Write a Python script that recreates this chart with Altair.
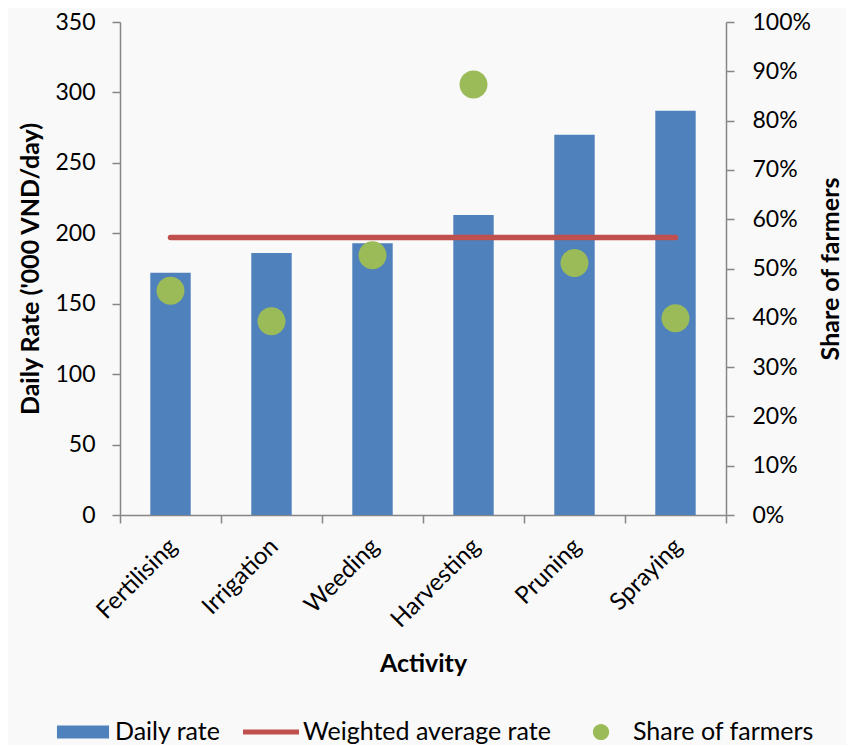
import altair as alt
import pandas as pd

# ---- data ----
activities = ["Fertilising", "Irrigation", "Weeding", "Harvesting", "Pruning", "Spraying"]
daily_rate = [172, 186, 193, 213, 270, 287]
share_of_farmers = [0.455, 0.393, 0.527, 0.873, 0.511, 0.399]
weighted_average = 197

series_names = ["Daily rate", "Weighted average rate", "Share of farmers"]
series_colors = ["#4F81BD", "#C0504D", "#9BBB59"]
legend_shapes = [
    "M-0.93,-0.23H0.93V0.23H-0.93Z",
    "M-1,-0.09H1V0.09H-1Z",
    "M-0.29,0A0.29,0.29,0,1,0,0.29,0A0.29,0.29,0,1,0,-0.29,0Z",
]
left_ticks = [0, 50, 100, 150, 200, 250, 300, 350]
right_ticks = [0, 0.1, 0.2, 0.3, 0.4, 0.5, 0.6, 0.7, 0.8, 0.9, 1.0]

df = pd.DataFrame({
    "Activity": activities,
    "rate": daily_rate,
    "share": share_of_farmers,
    "avg": [weighted_average] * len(activities),
    "series": ["Share of farmers"] * len(activities),
})

FONT = "Lato"
GRAY = "#868686"
LABEL_SIZE = 23
TITLE_SIZE = 25

x_enc = alt.X(
    "Activity:N",
    sort=activities,
    scale=alt.Scale(paddingInner=0, paddingOuter=0),
    axis=alt.Axis(title="Activity", labelAngle=-45, tickBand="extent",
                  labelPadding=11, labelOffset=-6, labelFontSize=24,
                  titlePadding=20),
)

left_scale = alt.Scale(domain=[0, 350])
left_axis = alt.Axis(title="Daily Rate ('000 VND/day)", values=left_ticks,
                     labelPadding=17, titlePadding=11)

bars = alt.Chart(df).mark_bar(
    color=series_colors[0], width=alt.RelativeBandSize(0.4)
).encode(
    x=x_enc,
    y=alt.Y("rate:Q", scale=left_scale, axis=left_axis),
)

line = alt.Chart(df).mark_line(
    color=series_colors[1], strokeWidth=5.5, strokeCap="round"
).encode(
    x=x_enc,
    y=alt.Y("avg:Q", scale=left_scale, axis=left_axis),
)

legend = alt.Legend(
    title=None, orient="none", direction="horizontal",
    legendX=-65, legendY=682,
    symbolSize=3136, labelFont=FONT, labelFontSize=25, labelColor="black",
    labelLimit=400, symbolStrokeWidth=0, labelOffset=4, columnPadding=22,
)

points = alt.Chart(df).mark_point(
    filled=True, opacity=1, size=9316
).encode(
    x=x_enc,
    y=alt.Y("share:Q", scale=alt.Scale(domain=[0, 1]),
            axis=alt.Axis(title="Share of farmers", orient="right", format=".0%",
                          values=right_ticks, titleAngle=270, labelPadding=18,
                          titlePadding=33)),
    color=alt.Color("series:N", scale=alt.Scale(domain=series_names, range=series_colors),
                    legend=legend),
    shape=alt.Shape("series:N", scale=alt.Scale(domain=series_names, range=legend_shapes),
                    legend=legend),
)

chart = alt.layer(
    alt.layer(bars, line), points
).resolve_scale(
    y="independent"
).properties(
    width=606, height=493, background="#F9F9F9",
    padding={"left": 10, "top": 3, "right": 2, "bottom": 0},
).configure_view(
    stroke=None
).configure_axis(
    grid=False, domainColor=GRAY, tickColor=GRAY, tickSize=8,
    domainWidth=1.5, tickWidth=1.5,
    labelFont=FONT, labelFontSize=LABEL_SIZE, labelColor="black",
    titleFont=FONT, titleFontSize=TITLE_SIZE, titleFontWeight="bold", titleColor="black",
)

chart.save("out.html", embed_options={"renderer": "svg", "actions": False})
